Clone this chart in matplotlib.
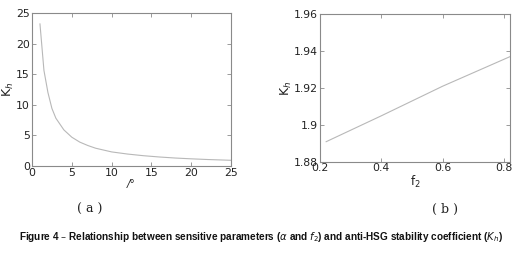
import matplotlib
matplotlib.use("Agg")
import matplotlib.pyplot as plt

# Panel (a): K_h vs alpha
alpha_deg = [1, 1.5, 2, 2.5, 3, 4, 5, 6, 7, 8, 9, 10, 12, 14, 16, 18, 20, 22, 25]
kh_alpha = [23.2, 15.6, 12.0, 9.4, 7.8, 5.9, 4.7, 3.9, 3.35, 2.9, 2.6, 2.3, 1.95,
            1.68, 1.47, 1.3, 1.17, 1.06, 0.93]

# Panel (b): K_h vs f2
f2 = [0.22, 0.4, 0.6, 0.82]
kh_f2 = [1.891, 1.905, 1.921, 1.937]

fig = plt.figure(figsize=(5.23, 2.56), dpi=100)
fig.patch.set_facecolor("white")

line_color = "#b8b8b8"
spine_color = "#8a8a8a"
tick_fs = 7.8


def style(ax):
    for s in ax.spines.values():
        s.set_color(spine_color)
        s.set_linewidth(0.8)
    ax.tick_params(direction="in", top=True, right=True, length=3,
                   width=0.6, color=spine_color, labelsize=tick_fs,
                   labelcolor="#222222", pad=1.5)


ax1 = fig.add_axes([0.0612, 0.3516, 0.3805, 0.598])
ax1.plot(alpha_deg, kh_alpha, color=line_color, lw=0.8)
ax1.set_xlim(0, 25)
ax1.set_ylim(0, 25)
ax1.set_xticks([0, 5, 10, 15, 20, 25])
ax1.set_yticks([0, 5, 10, 15, 20, 25])
style(ax1)
ax1.set_xlabel("/°", fontsize=7.5, style="italic", labelpad=1, color="#222222")
ax1.set_ylabel("K$_h$", fontsize=9, labelpad=0, color="#222222")

ax2 = fig.add_axes([0.6119, 0.367, 0.3633, 0.578])
ax2.plot(f2, kh_f2, color=line_color, lw=0.8)
ax2.set_xlim(0.2, 0.82)
ax2.set_ylim(1.88, 1.96)
ax2.set_xticks([0.2, 0.4, 0.6, 0.8])
ax2.set_xticklabels(["0.2", "0.4", "0.6", "0.8"])
ax2.set_yticks([1.88, 1.9, 1.92, 1.94, 1.96])
ax2.set_yticklabels(["1.88", "1.9", "1.92", "1.94", "1.96"])
style(ax2)
ax2.tick_params(axis="x", pad=0.5)
ax2.set_xlabel("f$_2$", fontsize=8.5, labelpad=1, color="#222222")
ax2.set_ylabel("K$_h$", fontsize=9, labelpad=0, color="#222222")

fig.text(90 / 523, 1 - 209 / 256, "( a )", family="DejaVu Serif", fontsize=9,
         ha="center", va="center", color="#222222")
fig.text(445 / 523, 1 - 209 / 256, "( b )", family="DejaVu Serif", fontsize=9,
         ha="center", va="center", color="#222222")

fig.text(261 / 523, 1 - 237 / 256,
         "Figure 4 – Relationship between sensitive parameters ($\\alpha$ and $f_2$) "
         "and anti-HSG stability coefficient ($K_h$)",
         family="Liberation Sans", weight="bold", fontsize=7.2,
         ha="center", va="center", color="#111111")

fig.savefig("out.png", dpi=100, facecolor="white")
